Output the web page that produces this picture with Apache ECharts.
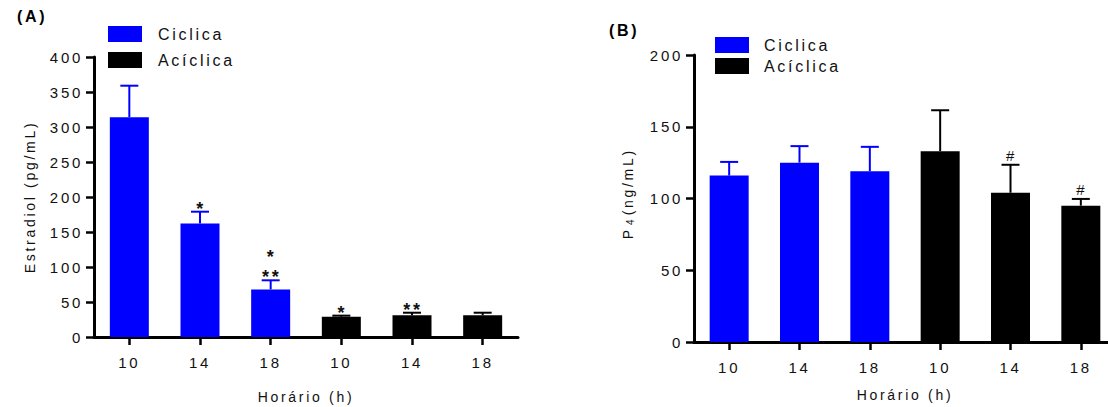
<!DOCTYPE html>
<html><head><meta charset="utf-8">
<script src="https://cdn.jsdelivr.net/npm/echarts@6/dist/echarts.min.js"></script>
<style>
html,body{margin:0;padding:0;background:#fff;}
#c{width:1108px;height:407px;}
#c text{letter-spacing:2.7px;}
</style></head><body><div id="c"></div>
<script>
// ---- data ----
const categories = ['10', '14', '18', '10', '14', '18'];
const seriesNames = ['Ciclica', 'Acíclica'];
// Panel A: Estradiol (pg/mL)
const ciclicaA = [314, 162, 68];
const aciclicaA = [29, 31, 31];
const semA = [45, 17, 13, 1.5, 3.7, 3.7];
const marksA1 = ['', '*', '**', '*', '**', ''];
const marksA2 = ['', '', '*', '', '', ''];
// Panel B: P4 (ng/mL)
const ciclicaB = [116, 125, 119];
const aciclicaB = [133, 104, 95];
const semB = [9.5, 11.5, 17, 28.5, 19.5, 4.7];
const marksB1 = ['', '', '', '', '#', '#'];
const marksB2 = ['', '', '', '', '', ''];
const yRangeA = [0, 400, 50];
const yRangeB = [0, 200, 50];

// ---- chart ----
const FONT = '"Liberation Sans", Arial, sans-serif';
const BLUE = '#0000ff', BLACK = '#000000', TXT = '#111111';
const chart = echarts.init(document.getElementById('c'), null, {renderer: 'svg'});

const pad = (a, before) => before ? ['-', '-', '-'].concat(a) : a.concat(['-', '-', '-']);

function barSeries(name, data, color, idx) {
  return {
    name: name, type: 'bar', xAxisIndex: idx, yAxisIndex: idx,
    data: data, barWidth: 39, barGap: '-100%', silent: true,
    itemStyle: {color: color}, z: 2
  };
}

function errSeries(means, sem, m1, m2, idx, markFont, off1) {
  return {
    type: 'custom', xAxisIndex: idx, yAxisIndex: idx, silent: true, z: 5,
    data: means.map((v, i) => [i, v, sem[i]]),
    renderItem: function (params, api) {
      const i = api.value(0), v = api.value(1), e = api.value(2);
      const base = api.coord([i, v]);
      const top = api.coord([i, v + e]);
      const col = i < 3 ? BLUE : BLACK;
      const ch = [
        {type: 'line', shape: {x1: base[0], y1: base[1], x2: top[0], y2: top[1]}, style: {stroke: col, lineWidth: 2}},
        {type: 'line', shape: {x1: top[0] - 9, y1: top[1], x2: top[0] + 9, y2: top[1]}, style: {stroke: col, lineWidth: 2}}
      ];
      const di = params.dataIndex;
      if (m1[di]) ch.push({type: 'text', style: {text: m1[di], x: top[0] + 1, y: top[1] - off1, align: 'center', verticalAlign: 'middle', font: markFont, fill: TXT}});
      if (m2[di]) ch.push({type: 'text', style: {text: m2[di], x: top[0] + 1, y: top[1] - off1 - 20, align: 'center', verticalAlign: 'middle', font: markFont, fill: TXT}});
      return {type: 'group', children: ch};
    }
  };
}

function xAxisCfg(idx, gap) {
  return {
    gridIndex: idx, type: 'category', data: categories,
    axisLine: {show: true, lineStyle: {color: BLACK, width: 3}},
    axisTick: {show: true, alignWithLabel: true, length: 8, lineStyle: {color: BLACK, width: 2.5}},
    axisLabel: {margin: 18, fontSize: 15, color: TXT, fontFamily: FONT},
    splitLine: {show: false},
    name: 'Horário (h)', nameLocation: 'middle', nameGap: gap, nameMoveOverlap: false,
    nameTextStyle: {fontSize: 14, color: TXT, fontFamily: FONT}
  };
}

function yAxisCfg(idx, r, name, gap, rich) {
  const o = {
    gridIndex: idx, type: 'value', min: r[0], max: r[1], interval: r[2],
    axisLine: {show: true, lineStyle: {color: BLACK, width: 3}},
    axisTick: {show: true, length: 8, lineStyle: {color: BLACK, width: 2.5}},
    axisLabel: {margin: 11, fontSize: 15, color: TXT, fontFamily: FONT},
    splitLine: {show: false},
    name: name, nameLocation: 'middle', nameGap: gap, nameRotate: 90, nameMoveOverlap: false,
    nameTextStyle: {fontSize: 14, color: TXT, fontFamily: FONT}
  };
  if (rich) o.nameTextStyle.rich = rich;
  return o;
}

function legendCfg(left, top, gap, padL) {
  return {
    left: left, top: top, orient: 'vertical', icon: 'rect',
    itemWidth: 34, itemHeight: 16, itemGap: gap, selectedMode: false,
    data: seriesNames,
    textStyle: {fontSize: 16, color: TXT, fontFamily: FONT, padding: [0, 0, 0, padL]}
  };
}

chart.setOption({
  animation: false,
  backgroundColor: '#ffffff',
  title: [
    {text: '(A)', left: 12, top: 3, textStyle: {fontSize: 16, fontWeight: 'bold', color: BLACK, fontFamily: FONT}},
    {text: '(B)', left: 604, top: 17, textStyle: {fontSize: 16, fontWeight: 'bold', color: BLACK, fontFamily: FONT}}
  ],
  legend: [legendCfg(103, 21, 10, 11), legendCfg(710, 32, 5, 10)],
  grid: [
    {left: 94, top: 57, width: 424, height: 280, containLabel: false, outerBoundsMode: 'none'},
    {left: 694, top: 55, width: 422, height: 287, containLabel: false, outerBoundsMode: 'none'}
  ],
  xAxis: [xAxisCfg(0, 53), xAxisCfg(1, 46)],
  yAxis: [
    yAxisCfg(0, yRangeA, 'Estradiol (pg/mL)', 57),
    yAxisCfg(1, yRangeB, 'P{s|4}{t| (ng/mL)}', 59, {
      s: {fontSize: 10, verticalAlign: 'bottom', padding: [0, 7, 0, 5], color: TXT, fontFamily: FONT},
      t: {fontSize: 14, color: TXT, fontFamily: FONT}
    })
  ],
  series: [
    barSeries(seriesNames[0], pad(ciclicaA, false), BLUE, 0),
    barSeries(seriesNames[1], pad(aciclicaA, true), BLACK, 0),
    errSeries(ciclicaA.concat(aciclicaA), semA, marksA1, marksA2, 0, 'bold 18px ' + FONT, 3),
    barSeries(seriesNames[0], pad(ciclicaB, false), BLUE, 1),
    barSeries(seriesNames[1], pad(aciclicaB, true), BLACK, 1),
    errSeries(ciclicaB.concat(aciclicaB), semB, marksB1, marksB2, 1, '15px ' + FONT, 9.5)
  ]
});
</script></body></html>
